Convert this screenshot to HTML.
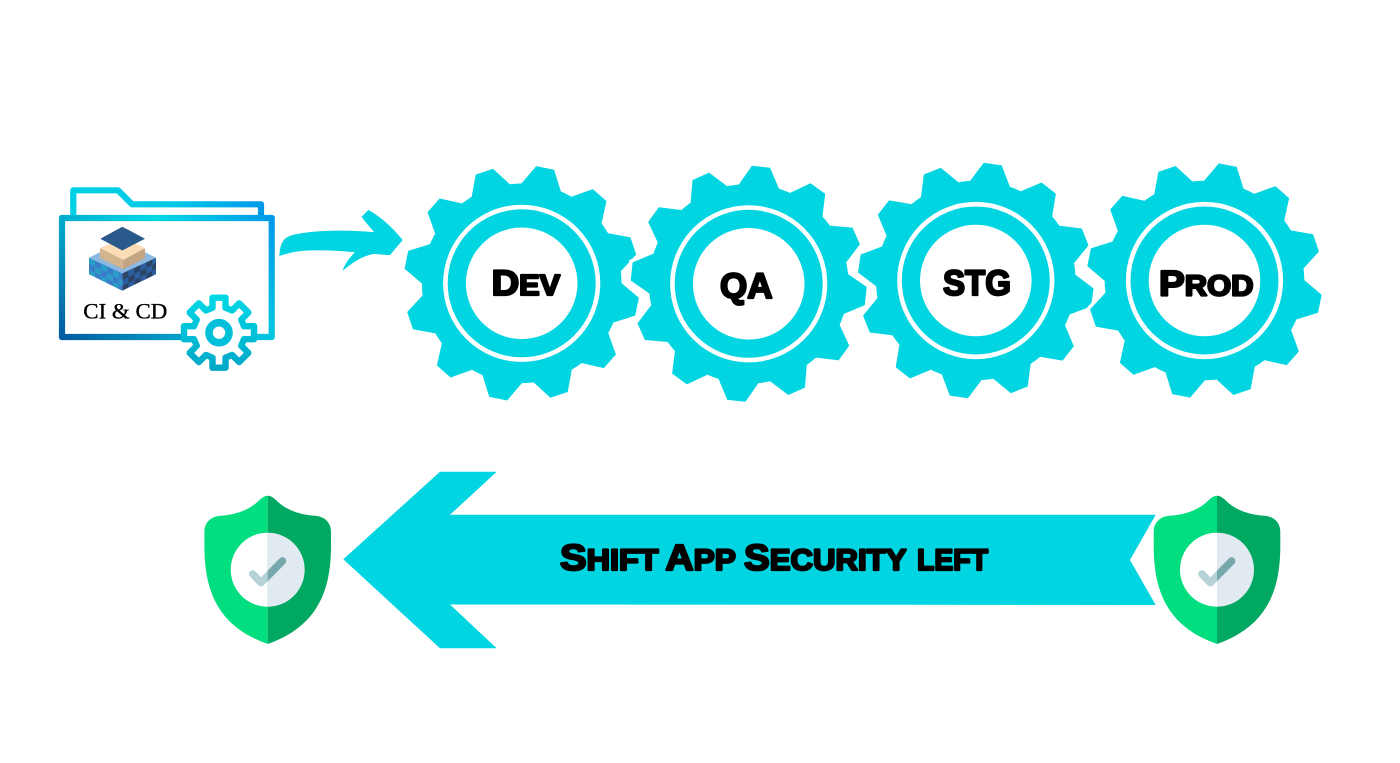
<!DOCTYPE html>
<html><head><meta charset="utf-8"><style>
html,body{margin:0;padding:0;background:#fff;width:1400px;height:763px;overflow:hidden}
svg{display:block}
.t{font-family:"Liberation Sans",sans-serif;font-weight:bold;fill:#000;stroke:#000;stroke-width:2.2;stroke-linejoin:round}
.u{text-transform:uppercase}
</style></head><body>
<svg width="1400" height="763" viewBox="0 0 1400 763" xmlns="http://www.w3.org/2000/svg">
<defs>
<polygon id="tooth" points="0,-80 -20.3,-97.4 -9.1,-117.7 9.1,-117.7 20.3,-97.4"/>
<g id="gear">
<circle r="99.8"/>
<use href="#tooth"/><use href="#tooth" transform="rotate(30)"/><use href="#tooth" transform="rotate(60)"/><use href="#tooth" transform="rotate(90)"/><use href="#tooth" transform="rotate(120)"/><use href="#tooth" transform="rotate(150)"/><use href="#tooth" transform="rotate(180)"/><use href="#tooth" transform="rotate(210)"/><use href="#tooth" transform="rotate(240)"/><use href="#tooth" transform="rotate(270)"/><use href="#tooth" transform="rotate(300)"/><use href="#tooth" transform="rotate(330)"/>
</g>
<g id="rings">
<circle r="76.3" fill="none" stroke="#fff" stroke-width="4.6"/>
<circle r="55.8" fill="#fff"/>
</g>
<g id="halfshield"><path d="M0,0 C-3,0 -6,2 -9,5 C-17,13 -30,19 -47,20 C-57,20.5 -63.3,27 -63.3,36 L-63.3,50 C-63.3,92 -52,130 0,148.3 Z"/></g>
<clipPath id="rightHalf"><rect x="0" y="0" width="70" height="150"/></clipPath>
<g id="shield">
<use href="#halfshield" fill="#00de80"/>
<use href="#halfshield" fill="#00a862" transform="scale(-1,1)"/>
<path d="M0,37 A37,37 0 0 0 0,111 Z" fill="#fff"/>
<path d="M0,37 A37,37 0 0 1 0,111 Z" fill="#e2eaf1"/>
<path d="M-15,78.3 L-6.7,87 L14.7,65.3" fill="none" stroke="#b5d2d9" stroke-width="7.5" stroke-linecap="round" stroke-linejoin="round"/>
<path d="M-15,78.3 L-6.7,87 L14.7,65.3" fill="none" stroke="#76a8ab" stroke-width="7.5" stroke-linecap="round" stroke-linejoin="round" clip-path="url(#rightHalf)"/>
</g>
<linearGradient id="gBack" gradientUnits="userSpaceOnUse" x1="73" y1="190" x2="265" y2="205"><stop offset="0" stop-color="#00d0e4"/><stop offset=".5" stop-color="#00cbe6"/><stop offset="1" stop-color="#0098ea"/></linearGradient>
<linearGradient id="gTop" gradientUnits="userSpaceOnUse" x1="60" y1="0" x2="274" y2="0"><stop offset="0" stop-color="#00aecf"/><stop offset=".45" stop-color="#00d8e6"/><stop offset="1" stop-color="#0098ea"/></linearGradient>
<linearGradient id="gRight" gradientUnits="userSpaceOnUse" x1="0" y1="215" x2="0" y2="340"><stop offset="0" stop-color="#0098ea"/><stop offset="1" stop-color="#00c8e0"/></linearGradient>
<linearGradient id="gBottom" gradientUnits="userSpaceOnUse" x1="60" y1="0" x2="274" y2="0"><stop offset="0" stop-color="#005aa0"/><stop offset=".6" stop-color="#00a6cc"/><stop offset="1" stop-color="#00c8e0"/></linearGradient>
<linearGradient id="gLeft" gradientUnits="userSpaceOnUse" x1="0" y1="215" x2="0" y2="340"><stop offset="0" stop-color="#00aecf"/><stop offset="1" stop-color="#005aa0"/></linearGradient>
<linearGradient id="gCog" x1="0" y1="0" x2="0" y2="1"><stop offset="0" stop-color="#00d8e6"/><stop offset="1" stop-color="#00a8c8"/></linearGradient>
<pattern id="pL" width="12" height="12" patternUnits="userSpaceOnUse" patternTransform="translate(89 257.7) matrix(1 .5 0 1 0 0)">
<rect width="12" height="12" fill="#3a7cc8"/><rect width="6" height="6" fill="#2a9dc8"/><rect x="6" y="6" width="6" height="6" fill="#2a9dc8"/>
</pattern>
<pattern id="pR" width="12" height="12" patternUnits="userSpaceOnUse" patternTransform="translate(122.3 274) matrix(1 -.5 0 1 0 0)">
<rect width="12" height="12" fill="#2c5f9f"/><rect width="6" height="6" fill="#2a4468"/><rect x="6" y="6" width="6" height="6" fill="#2a4468"/>
</pattern>
</defs>

<!-- folder -->
<path d="M73.3,215 V190.3 H118 L132,204.3 H261 V215" fill="none" stroke="url(#gBack)" stroke-width="6.2" stroke-linejoin="round"/>
<rect x="59" y="215" width="216" height="125" rx="3" fill="#fff"/>
<path d="M62,218 H271.7" fill="none" stroke="url(#gTop)" stroke-width="6.2" stroke-linecap="round"/>
<path d="M271.7,218 V337" fill="none" stroke="url(#gRight)" stroke-width="6.2" stroke-linecap="round"/>
<path d="M62,337 H271.7" fill="none" stroke="url(#gBottom)" stroke-width="6.2" stroke-linecap="round"/>
<path d="M62,218 V337" fill="none" stroke="url(#gLeft)" stroke-width="6.2" stroke-linecap="round"/>

<!-- stack icon -->
<polygon points="89,257.7 122.3,241 156,257.7 122.3,273.3" fill="#8cb8e4"/>
<polygon points="89,257.7 122.3,273.3 122.3,290.7 89,274.3" fill="url(#pL)"/>
<polygon points="122.3,273.3 156,257.7 156,274.3 122.3,290.7" fill="url(#pR)"/>
<polygon points="100,248.3 122.3,237 145,248.3 123.3,260" fill="#fbdcb4"/>
<polygon points="100,248.3 123.3,260 123.3,269.3 100,258.3" fill="#d2b48f"/>
<polygon points="123.3,260 145,248.3 145,258.3 123.3,269.3" fill="#c2a583"/>
<polygon points="122.3,226.7 145,238.7 122.3,250.5 100.3,238.7" fill="#2a5a8c"/>

<text x="83.3" y="318.3" font-family="'Liberation Serif',serif" font-size="22" fill="#000" stroke="#000" stroke-width=".35" textLength="84" lengthAdjust="spacingAndGlyphs">CI &amp; CD</text>

<!-- cog -->
<g transform="translate(219 332.7)">
<polygon fill="#fff" stroke="url(#gCog)" stroke-width="6.4" stroke-linejoin="round" points="-6.5,-25 -6.5,-35 6.5,-35 6.5,-25 13.08,-22.27 20.15,-29.34 29.34,-20.15 22.27,-13.08 25,-6.5 35,-6.5 35,6.5 25,6.5 22.27,13.08 29.34,20.15 20.15,29.34 13.08,22.27 6.5,25 6.5,35 -6.5,35 -6.5,25 -13.08,22.27 -20.15,29.34 -29.34,20.15 -22.27,13.08 -25,6.5 -35,6.5 -35,-6.5 -25,-6.5 -22.27,-13.08 -29.34,-20.15 -20.15,-29.34 -13.08,-22.27"/>
<circle r="10" fill="#fff" stroke="#00bfd8" stroke-width="7.6"/>
</g>

<!-- curved arrow -->
<path d="M279.3,256 C280,244 283,238 291,235.5 C307,231 340,229 374.3,232.3 C370,227 365,222 361.7,216.7 L368.3,210 C380,216 393,228 402.7,240 L390,255 C385,255 378,254 373.3,254 C362,256 352,263 342.7,270.7 C344,265 350,257 355,252.3 C340,250.5 322,250 308,250.5 C297,251 288,253 279.3,256 Z" fill="#01d5e1"/>

<!-- gears -->
<use href="#gear" transform="translate(521.7 283.3) rotate(11.5)" fill="#01d5e1"/>
<use href="#rings" transform="translate(521.7 283.3)"/>

<use href="#gear" transform="translate(748.7 283.8) rotate(6)" fill="#fff" stroke="#fff" stroke-width="7"/>
<use href="#gear" transform="translate(748.7 283.8) rotate(6)" fill="#01d5e1"/>
<use href="#rings" transform="translate(748.7 283.8)"/>

<use href="#gear" transform="translate(975.8 280.5) rotate(8.3)" fill="#fff" stroke="#fff" stroke-width="7"/>
<use href="#gear" transform="translate(975.8 280.5) rotate(8.3)" fill="#01d5e1"/>
<use href="#rings" transform="translate(975.8 280.5)"/>

<use href="#gear" transform="translate(1204.5 280.5) rotate(11.4)" fill="#fff" stroke="#fff" stroke-width="7"/>
<use href="#gear" transform="translate(1204.5 280.5) rotate(11.4)" fill="#01d5e1"/>
<use href="#rings" transform="translate(1204.5 280.5)"/>

<text class="t" x="491.6" y="294.8" font-size="35.5" textLength="68.5" lengthAdjust="spacingAndGlyphs">D<tspan class="u" font-size="28.5">ev</tspan></text>
<text class="t" x="720" y="298" font-size="35.5" textLength="52.5" lengthAdjust="spacingAndGlyphs">QA</text>
<text class="t" x="943" y="294.8" font-size="35.5" textLength="68" lengthAdjust="spacingAndGlyphs">STG</text>
<text class="t" x="1159" y="295.4" font-size="35.5" textLength="94.5" lengthAdjust="spacingAndGlyphs">P<tspan class="u" font-size="28.5">rod</tspan></text>

<!-- big arrow -->
<polygon points="343.3,559.3 440,471.7 496.7,471.7 450,514.8 1155.7,514.8 1130,560 1155.7,605 450,604.5 496.7,648.3 440,648.3" fill="#01d5e1"/>

<text class="t" x="560" y="570" font-size="36.5" textLength="98.5" lengthAdjust="spacingAndGlyphs">S<tspan class="u" font-size="29.5">hift</tspan></text>
<text class="t" x="665.4" y="570" font-size="36.5" textLength="70.5" lengthAdjust="spacingAndGlyphs">A<tspan class="u" font-size="29.5">pp</tspan></text>
<text class="t" x="744" y="570" font-size="36.5" textLength="162.5" lengthAdjust="spacingAndGlyphs">S<tspan class="u" font-size="29.5">ecurity</tspan></text>
<text class="t u" x="917" y="570" font-size="29.5" textLength="71" lengthAdjust="spacingAndGlyphs">left</text>

<!-- shields -->
<use href="#shield" transform="translate(267.7 495.7)"/>
<use href="#shield" transform="translate(1217 495.7)"/>
</svg>
</body></html>
